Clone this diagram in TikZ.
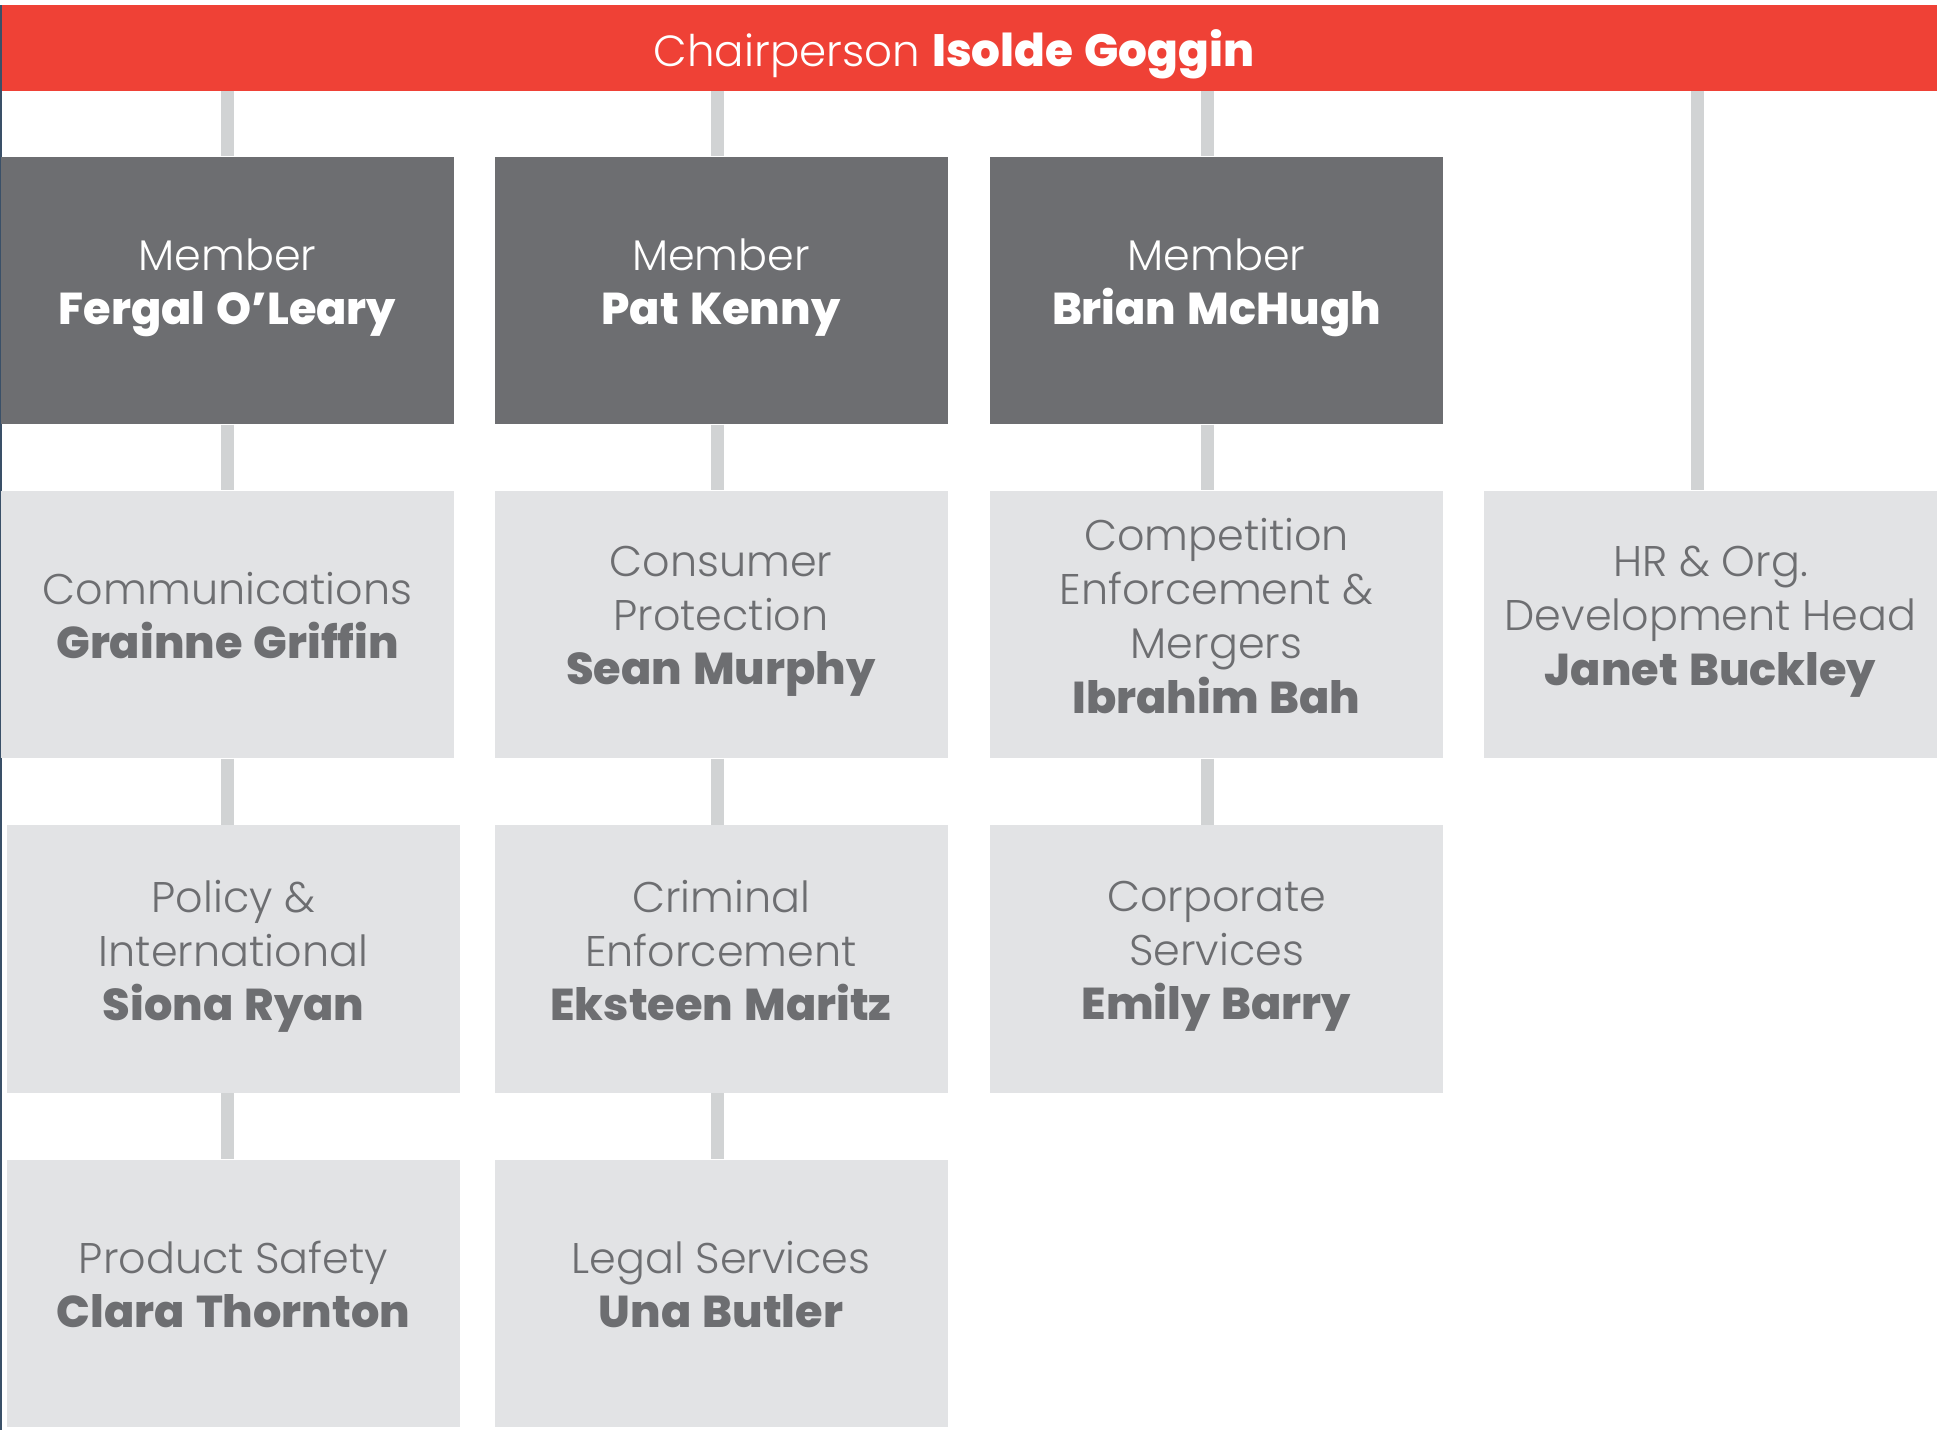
\documentclass[tikz,border=0pt]{standalone}
\usepackage{fontspec}
\setmainfont{Poppins Light}[BoldFont={Poppins ExtraBold}, BoldFeatures={Scale=1.04, WordSpace=1.3}]
\usepackage{xcolor}
\usepackage{tikz}
\usetikzlibrary{
  positioning,
  calc
}
\definecolor{chairred}{HTML}{EF4136}
\definecolor{memberdark}{HTML}{6D6E71}
\definecolor{unitlight}{HTML}{E2E3E5}
\definecolor{linkgrey}{HTML}{D1D3D4}
\definecolor{edgeblue}{HTML}{3A5068}

\begin{document}
\begin{tikzpicture}[
  memberB/.style={
    fill=memberdark, text=white, minimum width=4.53cm, minimum height=2.67cm,
    inner sep=0pt, text depth=5pt, align=center, font=\fontsize{12.2}{15.4}\selectfont,
  },
  unitB/.style={
    fill=unitlight, text=memberdark, minimum width=4.53cm, minimum height=2.67cm,
    inner sep=0pt, text depth=5pt, align=center, font=\fontsize{12.2}{15.4}\selectfont,
  },
  link/.style={draw=linkgrey, line width=1.3mm},
]
\useasboundingbox (0,0) rectangle (19.37,-14.30);

% Left edge rule
\fill[edgeblue] (0,-0.05) rectangle (0.02,-14.30);

% Top - Chairperson bar
\node[fill=chairred, minimum width=19.35cm, minimum height=0.86cm, inner sep=0pt] (bar) at (9.695,-0.48) {};
\node[text=white, font=\fontsize{12.4}{15}\selectfont] (chair) at (9.54,-0.54) {Chairperson \textbf{Isolde Goggin}};

% connector columns
\coordinate (c1) at (2.275,-0.91);
\coordinate (c2) at (7.175,-0.91);
\coordinate (c3) at (12.075,-0.91);
\coordinate (c4) at (16.975,-0.91);

% Members
\node[memberB] (m1) at (2.275,-2.905) {Member\\\textbf{Fergal O’Leary}};
\node[memberB] (m2) at (7.21,-2.905) {Member\\\textbf{Pat Kenny}};
\node[memberB] (m3) at (12.165,-2.905) {Member\\\textbf{Brian McHugh}};

% Divisions
\node[unitB] (d1) at (2.275,-6.245) {Communications\\\textbf{Grainne Griffin}};
\node[unitB] (d2) at (7.21,-6.245) {Consumer\\Protection\\\textbf{Sean Murphy}};
\node[unitB] (d3) at (12.165,-6.245) {Competition\\Enforcement \&\\Mergers\\\textbf{Ibrahim Bah}};
\node[unitB] (hr) at (17.105,-6.245) {HR \& Org.\\Development Head\\\textbf{Janet Buckley}};

\node[unitB] (e1) at (2.335,-9.59) {Policy \&\\International\\\textbf{Siona Ryan}};
\node[unitB] (e2) at (7.21,-9.59) {Criminal\\Enforcement\\\textbf{Eksteen Maritz}};
\node[unitB] (e3) at (12.165,-9.59) {Corporate\\Services\\\textbf{Emily Barry}};

\node[unitB] (f1) at (2.335,-12.93) {Product Safety\\\textbf{Clara Thornton}};
\node[unitB] (f2) at (7.21,-12.93) {Legal Services\\\textbf{Una Butler}};

% Connectors
\draw[link] (c1) -- (c1 |- m1.north);
\draw[link] (c2) -- (c2 |- m2.north);
\draw[link] (c3) -- (c3 |- m3.north);
\draw[link] (c4) -- (c4 |- hr.north);

\draw[link] (c1 |- m1.south) -- (c1 |- d1.north);
\draw[link] (c2 |- m2.south) -- (c2 |- d2.north);
\draw[link] (c3 |- m3.south) -- (c3 |- d3.north);

\draw[link] (c1 |- d1.south) -- (c1 |- e1.north);
\draw[link] (c2 |- d2.south) -- (c2 |- e2.north);
\draw[link] (c3 |- d3.south) -- (c3 |- e3.north);

\draw[link] (c1 |- e1.south) -- (c1 |- f1.north);
\draw[link] (c2 |- e2.south) -- (c2 |- f2.north);

\end{tikzpicture}
\end{document}
